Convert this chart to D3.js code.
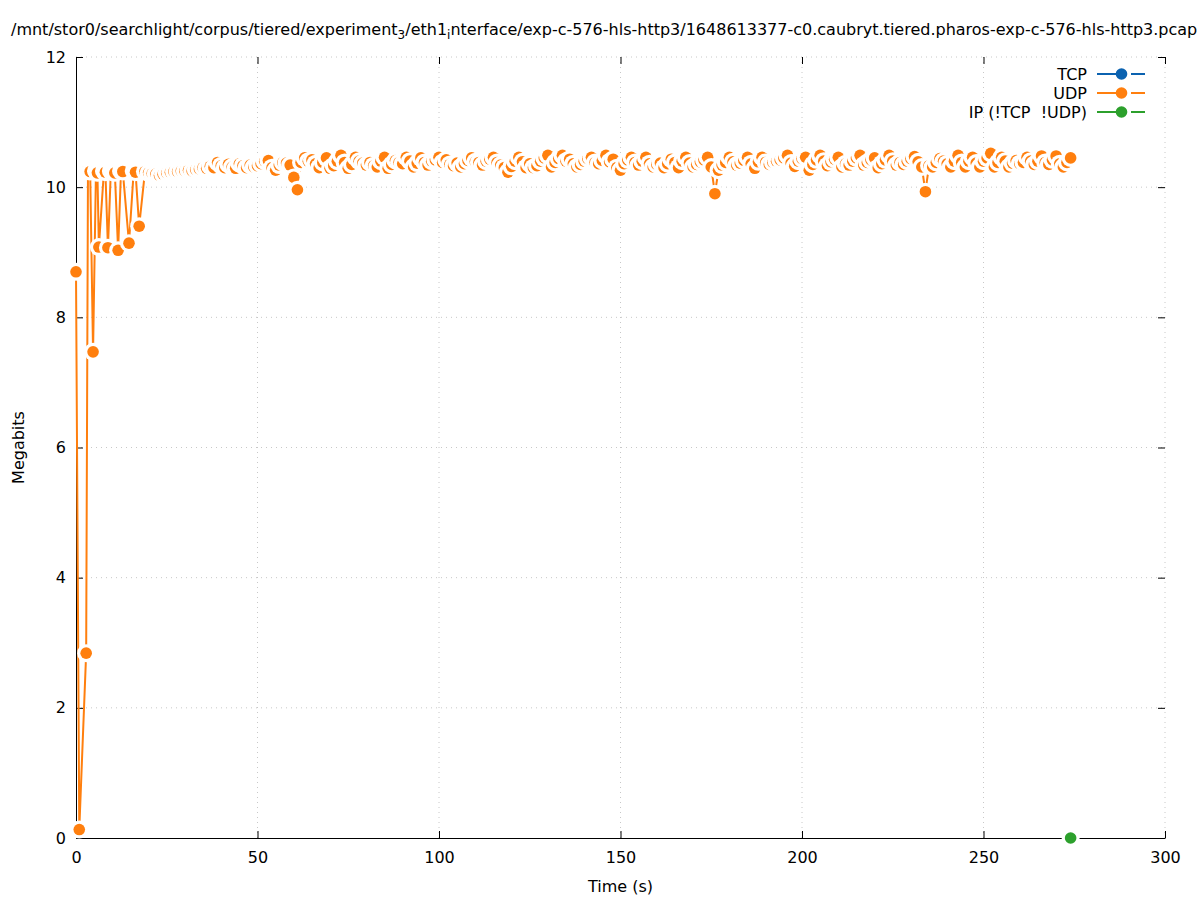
<!DOCTYPE html>
<html>
<head>
<meta charset="utf-8">
<script src="https://cdn.jsdelivr.net/npm/d3@7"></script>
<style>
  html, body { margin: 0; padding: 0; background: #fff; }
  svg { display: block; font-family: "DejaVu Sans", sans-serif; }
</style>
</head>
<body>
<svg id="chart" width="1197" height="900"></svg>
<script>
// ---- data ----
const titleParts = [
  { t: "/mnt/stor0/searchlight/corpus/tiered/experiment", sub: false },
  { t: "3", sub: true },
  { t: "/eth1", sub: false },
  { t: "i", sub: true },
  { t: "nterface/exp-c-576-hls-http3/1648613377-c0.caubryt.tiered.pharos-exp-c-576-hls-http3.pcap", sub: false }
];
const xTicks = [0, 50, 100, 150, 200, 250, 300];
const yTicks = [0, 2, 4, 6, 8, 10, 12];
const seriesNames = ["TCP", "UDP", "IP (!TCP  !UDP)"];
const seriesColors = ["#0b62b0", "#ff7f0e", "#2ca02c"];

// UDP: first seconds (irregular times)
const udpStartTimes = [0, 0.9, 2.8, 3.3, 3.9, 4.7, 5.5, 5.9, 6.3, 7.7, 8.1, 8.8, 9.6, 10.1, 10.7, 11.6, 12.4, 12.9, 14.6, 15.9, 16.4, 17.4];
const udpStartValues = [8.70, 0.13, 2.84, 10.26, 10.24, 7.47, 10.25, 10.22, 9.08, 10.25, 10.23, 9.07, 10.25, 10.23, 10.22, 9.03, 10.25, 10.24, 9.14, 10.25, 10.23, 9.40];
// UDP: one value per second from t = 19 to t = 274
const udpSteadyStart = 19;
const udpSteadyValues = [
  10.24,10.22,10.21,10.20,10.18,10.20,10.22,10.23,10.24,10.24,
  10.25,10.25,10.26,10.25,10.27,10.28,10.30,10.29,10.32,10.30,
  10.38,10.33,10.30,10.35,10.31,10.29,10.36,10.33,10.30,10.34,
  10.31,10.33,10.36,10.40,10.41,10.30,10.26,10.34,10.38,10.37,
  10.34,10.15,9.96,10.38,10.45,10.40,10.42,10.36,10.30,10.38,
  10.45,10.29,10.33,10.40,10.49,10.38,10.29,10.35,10.46,10.40,
  10.37,10.34,10.38,10.33,10.31,10.40,10.46,10.29,10.35,10.41,
  10.38,10.36,10.46,10.40,10.31,10.37,10.45,10.38,10.34,10.40,
  10.42,10.46,10.38,10.42,10.35,10.33,10.37,10.31,10.36,10.41,
  10.45,10.39,10.38,10.34,10.40,10.43,10.46,10.38,10.34,10.30,
  10.23,10.32,10.40,10.46,10.39,10.30,10.36,10.30,10.33,10.40,
  10.45,10.49,10.31,10.38,10.44,10.49,10.40,10.43,10.36,10.31,
  10.35,10.40,10.44,10.46,10.38,10.36,10.41,10.49,10.39,10.43,
  10.30,10.26,10.36,10.42,10.46,10.38,10.34,10.40,10.46,10.36,
  10.31,10.35,10.37,10.30,10.36,10.43,10.38,10.30,10.40,10.46,
  10.37,10.31,10.35,10.39,10.42,10.46,10.31,9.90,10.26,10.34,
  10.38,10.46,10.39,10.34,10.37,10.41,10.46,10.36,10.29,10.39,
  10.46,10.38,10.35,10.38,10.40,10.42,10.45,10.49,10.37,10.32,
  10.40,10.44,10.46,10.26,10.35,10.42,10.49,10.40,10.33,10.39,
  10.43,10.46,10.31,10.36,10.34,10.40,10.45,10.49,10.34,10.38,
  10.42,10.45,10.30,10.36,10.42,10.49,10.40,10.34,10.38,10.35,
  10.40,10.44,10.47,10.39,10.31,9.93,10.33,10.31,10.38,10.44,
  10.40,10.36,10.31,10.40,10.49,10.38,10.31,10.40,10.46,10.37,
  10.31,10.40,10.45,10.52,10.31,10.38,10.46,10.40,10.31,10.37,
  10.41,10.36,10.38,10.46,10.40,10.35,10.40,10.48,10.38,10.35,
  10.42,10.48,10.36,10.31,10.38,10.45
];
// IP (!TCP !UDP)
const ipTimes = [274];
const ipValues = [0];
// TCP: no samples
const tcpTimes = [];
const tcpValues = [];

// ---- build ----
const udp = udpStartTimes.map((t, i) => ({ t, v: udpStartValues[i] }))
  .concat(udpSteadyValues.map((v, i) => ({ t: udpSteadyStart + i, v })));
const ip = ipTimes.map((t, i) => ({ t, v: ipValues[i] }));
const tcp = tcpTimes.map((t, i) => ({ t, v: tcpValues[i] }));

const svg = d3.select("#chart");
const L = 76, R = 1165, T = 57, B = 838;
const x = d3.scaleLinear().domain([0, 300]).range([L, R]);
const y = d3.scaleLinear().domain([0, 12]).range([B, T]);
const FS = 16;
const R_BLANK = 9, R_PT = 5.8;

// grid
const grid = svg.append("g").attr("stroke", "#c8c8c8").attr("stroke-width", 1).attr("stroke-dasharray", "1,4");
xTicks.filter(d => d > 0).forEach(d => {
  grid.append("line").attr("x1", x(d)).attr("x2", x(d)).attr("y1", B).attr("y2", T);
});
yTicks.filter(d => d > 0).forEach(d => {
  grid.append("line").attr("x1", L).attr("x2", R).attr("y1", y(d)).attr("y2", y(d));
});

// axes
const ax = svg.append("g").attr("transform", `translate(0,${B})`)
  .call(d3.axisBottom(x).tickValues(xTicks).tickSize(-7).tickSizeOuter(0).tickPadding(14));
const ay = svg.append("g").attr("transform", `translate(${L},0)`)
  .call(d3.axisLeft(y).tickValues(yTicks).tickSize(-7).tickSizeOuter(0).tickPadding(10));
const axT = svg.append("g").attr("transform", `translate(0,${T})`)
  .call(d3.axisTop(x).tickValues(xTicks).tickSize(-7).tickSizeOuter(0).tickFormat(""));
const ayR = svg.append("g").attr("transform", `translate(${R},0)`)
  .call(d3.axisRight(y).tickValues(yTicks).tickSize(-7).tickSizeOuter(0).tickFormat(""));
[axT, ayR].forEach(g => g.select(".domain").remove());
[ax, ay, axT, ayR].forEach(g => {
  g.selectAll("line").attr("stroke", "#000");
  g.selectAll("text").attr("font-size", FS).attr("font-family", "DejaVu Sans").attr("fill", "#000");
});
[ax, ay].forEach(g => g.select(".domain").attr("stroke", "#000").attr("stroke-width", 1));

// series drawing (gnuplot linespoints with blank circle behind each point)
function drawSeries(data, color) {
  const g = svg.append("g");
  if (data.length > 1) {
    g.append("path").datum(data)
      .attr("fill", "none").attr("stroke", color).attr("stroke-width", 2)
      .attr("stroke-linejoin", "round")
      .attr("d", d3.line().x(d => x(d.t)).y(d => y(d.v)));
  }
  data.forEach(d => {
    g.append("circle").attr("cx", x(d.t)).attr("cy", y(d.v)).attr("r", R_BLANK).attr("fill", "#fff");
    g.append("circle").attr("cx", x(d.t)).attr("cy", y(d.v)).attr("r", R_PT).attr("fill", color);
  });
}
drawSeries(tcp, seriesColors[0]);
drawSeries(udp, seriesColors[1]);
drawSeries(ip, seriesColors[2]);

// legend
const leg = svg.append("g");
seriesNames.forEach((name, i) => {
  const cy = 74 + i * 19;
  leg.append("text").attr("x", 1087).attr("y", cy).attr("dy", "0.35em")
    .attr("text-anchor", "end").attr("font-size", FS).style("white-space", "pre").text(name);
  leg.append("line").attr("x1", 1097).attr("x2", 1116).attr("y1", cy).attr("y2", cy)
    .attr("stroke", seriesColors[i]).attr("stroke-width", 2);
  leg.append("line").attr("x1", 1131).attr("x2", 1145).attr("y1", cy).attr("y2", cy)
    .attr("stroke", seriesColors[i]).attr("stroke-width", 2);
  leg.append("circle").attr("cx", 1121.5).attr("cy", cy).attr("r", R_PT).attr("fill", seriesColors[i]);
});

// title
const title = svg.append("text").attr("x", 11).attr("y", 35).attr("font-size", FS).attr("text-anchor", "start");
titleParts.forEach((p, i) => {
  const ts = title.append("tspan").text(p.t);
  if (p.sub) ts.attr("font-size", FS * 0.75).attr("dy", 4);
  else if (i > 0 && titleParts[i - 1].sub) ts.attr("dy", -4);
});

// axis labels
svg.append("text").attr("x", (L + R) / 2).attr("y", 892).attr("text-anchor", "middle")
  .attr("font-size", FS).text("Time (s)");
svg.append("text").attr("transform", `translate(24,${(T + B) / 2}) rotate(-90)`)
  .attr("text-anchor", "middle").attr("font-size", FS).text("Megabits");
</script>
</body>
</html>
